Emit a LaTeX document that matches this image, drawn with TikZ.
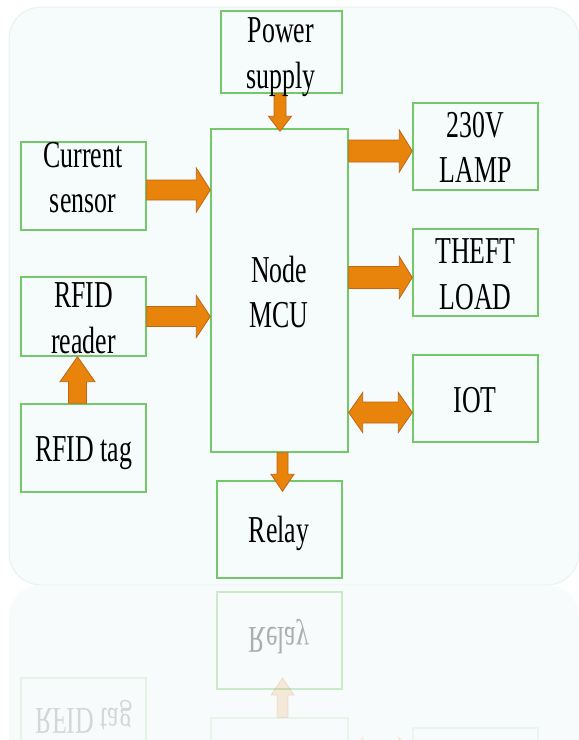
\documentclass[tikz,border=0pt]{standalone}
\usepackage{fontspec}
\setmainfont{Liberation Serif}
\newfontfamily\dfont[FakeStretch=0.68]{Liberation Serif}
\usetikzlibrary{calc}
\definecolor{bgc}{RGB}{246,251,252}
\definecolor{bgedge}{RGB}{232,241,243}
\definecolor{boxg}{RGB}{116,200,106}
\definecolor{arrf}{RGB}{232,131,12}
\definecolor{arrd}{RGB}{192,102,22}
\newcommand{\fatarw}[6][]{%
  \coordinate (fas) at (#2);
  \coordinate (fae) at (#3);
  \coordinate (fah) at ($(fae)!#6!(fas)$);
  \draw[fat,#1] ($(fas)!#4!90:(fae)$) -- ($(fah)!#4!90:(fae)$) -- ($(fah)!#5!90:(fae)$) -- (fae) -- ($(fah)!#5!-90:(fae)$) -- ($(fah)!#4!-90:(fae)$) -- ($(fas)!#4!-90:(fae)$) -- cycle;}
\newcommand{\dblarw}[6][]{%
  \coordinate (fas) at (#2);
  \coordinate (fae) at (#3);
  \coordinate (fha) at ($(fas)!#6!(fae)$);
  \coordinate (fhb) at ($(fae)!#6!(fas)$);
  \draw[fat,#1] (fas) -- ($(fha)!#5!90:(fae)$) -- ($(fha)!#4!90:(fae)$) -- ($(fhb)!#4!90:(fae)$) -- ($(fhb)!#5!90:(fae)$) -- (fae) -- ($(fhb)!#5!-90:(fae)$) -- ($(fhb)!#4!-90:(fae)$) -- ($(fha)!#4!-90:(fae)$) -- ($(fha)!#5!-90:(fae)$) -- cycle;}
\begin{document}
\begin{tikzpicture}[x=1pt,y=-1pt,
  box/.style={draw=boxg, line width=1.4pt, minimum width=125pt, minimum height=87pt, inner sep=0pt},
  lbl/.style={font=\dfont\fontsize{38}{45.5}\selectfont, align=center, inner sep=0pt, text=black},
  fat/.style={fill=arrf, draw=arrd, line width=0.8pt, line join=miter}]
\fill[white] (0,0) rectangle (579,740);
\useasboundingbox (0,0) rectangle (579,740);
% background panel
\fill[bgc, draw=bgedge, line width=1pt, rounded corners=32pt] (9,7) rectangle (579,585);
% boxes
\node[box, minimum width=121pt, minimum height=82pt] (ps) at (281.5,52) {};
\node[box, minimum width=137pt, minimum height=323pt] (mcu) at (279.5,290.5) {};
\node[box, minimum height=88pt] (cs) at (83.5,186) {};
\node[box, minimum height=79pt] (rr) at (83.5,316.5) {};
\node[box, minimum height=88pt] (rt) at (83.5,448) {};
\node[box] (lamp) at (475.5,146.5) {};
\node[box] (theft) at (475.5,272.5) {};
\node[box] (iot) at (475.5,398.5) {};
\node[box, minimum height=97pt] (relay) at (279.5,529.5) {};
% arrows
\coordinate (pstip) at ([xshift=0.5pt,yshift=-3pt]mcu.north);
\fatarw{ps.south -| pstip}{pstip}{6pt}{11.5pt}{15pt}
\coordinate (csout) at ([yshift=-4pt]cs.east);
\fatarw{csout}{mcu.west |- csout}{10pt}{22pt}{14pt}
\fatarw{rr.east}{mcu.west |- rr.east}{10pt}{21pt}{14pt}
\coordinate (rrin) at ([xshift=-6pt]rr.south);
\fatarw{rt.north -| rrin}{rrin}{9pt}{17.5pt}{25pt}
\coordinate (lampin) at ([yshift=-4.5pt]lamp.west);
\fatarw{mcu.east |- lampin}{lampin}{11pt}{21pt}{13pt}
\coordinate (theftin) at ([yshift=-5pt]theft.west);
\fatarw{mcu.east |- theftin}{theftin}{11pt}{21pt}{13pt}
\coordinate (iotin) at ([yshift=-14pt]iot.west);
\dblarw{mcu.east |- iotin}{iotin}{10.5pt}{20pt}{14pt}
\coordinate (rltip) at ([xshift=3pt,yshift=-11pt]relay.north);
\fatarw{mcu.south -| rltip}{rltip}{5.5pt}{11.5pt}{17pt}
% labels
\node[lbl] (psl) at (281,57) {Power\\supply};
\node[lbl] (csl) at (83,177.8) {Current\\sensor};
\node[lbl] (rrl) at (83.5,318.4) {RFID\\reader};
\node[lbl] (rtl) at (83.5,453.5) {RFID tag};
\node[lbl] (mcul) at (279,292) {Node\\MCU};
\node[lbl] (lampl) at (475.5,147.6) {230V\\LAMP};
\node[lbl] (theftl) at (475.5,274.4) {THEFT\\LOAD};
\node[lbl] (iotl) at (475,400.4) {IOT};
\node[lbl] (relayl) at (279,533) {Relay};
% reflection
\begin{scope}[shift={(0,1170)}, yscale=-1, transform shape]
  \fill[bgc, opacity=0.8, rounded corners=32pt] (9,7) rectangle (579,585);
  \node[box, minimum height=97pt, draw opacity=0.35] (relayR) at (279.5,529.5) {};
  \node[lbl, opacity=0.3] (relayRl) at (279,533) {Relay};
  \node[box, minimum width=137pt, minimum height=323pt, draw opacity=0.12] (mcuR) at (279.5,290.5) {};
  \node[box, minimum height=88pt, draw opacity=0.15] (rtR) at (83.5,448) {};
  \node[lbl, opacity=0.14] (rtRl) at (83.5,453.5) {RFID tag};
  \node[box, draw opacity=0.1] (iotR) at (475.5,398.5) {};
  \coordinate (rltipR) at (282.5,492);
  \fatarw[opacity=0.15]{mcuR.south -| rltipR}{rltipR}{5.5pt}{11.5pt}{17pt}
  \coordinate (iotinR) at (413,412.5);
  \dblarw[opacity=0.1]{mcuR.east |- iotinR}{iotinR}{10.5pt}{20pt}{14pt}
\end{scope}
\end{tikzpicture}
\end{document}
